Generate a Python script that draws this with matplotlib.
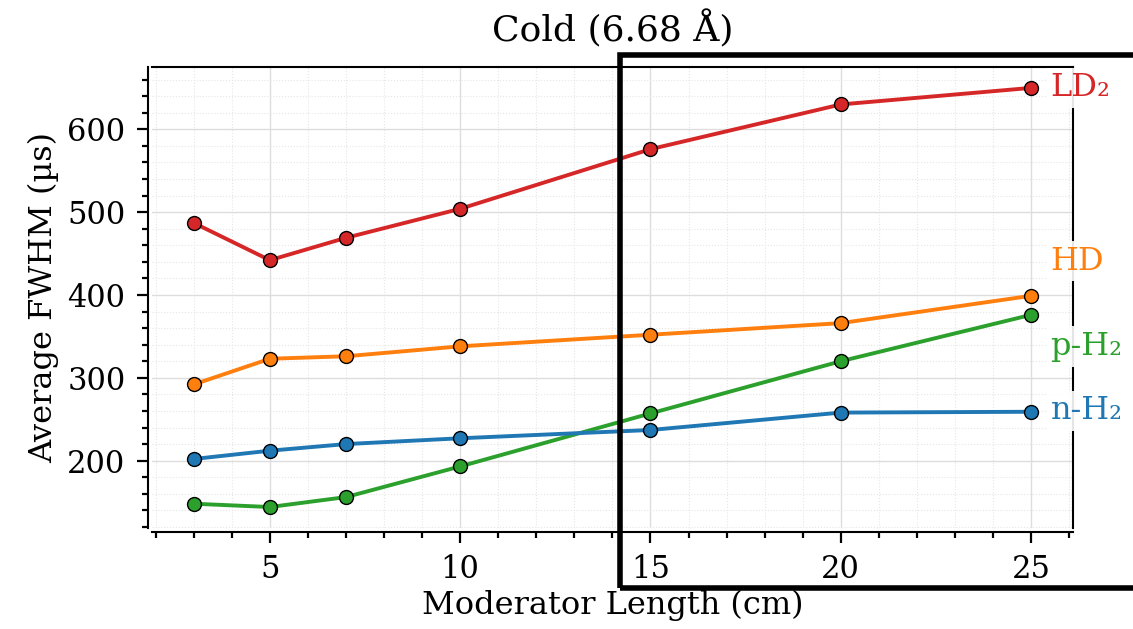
import matplotlib
matplotlib.use('Agg')
import matplotlib.pyplot as plt
from matplotlib.patches import Rectangle
from matplotlib.ticker import MultipleLocator

## moderator lengths (cm)
lengths = [3, 5, 7, 10, 15, 20, 25]

## average FWHM (us) per moderator material
ld2 = [487, 442, 469, 504, 576, 630, 650]
hd = [292, 323, 326, 338, 352, 366, 399]
ph2 = [148, 144, 156, 193, 257, 320, 376]
nh2 = [202, 212, 220, 227, 237, 258, 259]

names = ['LD₂', 'HD', 'p-H₂', 'n-H₂']
colors = ['#d62728', '#ff7f0e', '#2ca02c', '#1f77b4']
## where the end labels sit (data y)
label_y = [650, 441, 338, 260]

plt.rcParams['font.family'] = ['DejaVu Serif']
plt.rcParams['font.size'] = 21

fig = plt.figure(figsize=(11.33, 6.29), dpi=100)
ax = fig.add_axes([0.134, 0.1606, 0.813, 0.733])

series = [ld2, hd, ph2, nh2]
for vals, name, c, ly in zip(series, names, colors, label_y):
    ax.plot(lengths, vals, '-o', color=c, lw=2.8, ms=10,
            markeredgecolor='black', markeredgewidth=1.0, zorder=3)
    ax.annotate(name, xy=(lengths[-1], ly), xytext=(14, 0),
                textcoords='offset points', color=c, va='center', ha='left',
                fontsize=23, annotation_clip=False, zorder=5,
                bbox=dict(boxstyle='square,pad=0.15', fc='white', ec='none', alpha=0.9))

ax.xaxis.set_major_locator(MultipleLocator(5))
ax.xaxis.set_minor_locator(MultipleLocator(1))
ax.yaxis.set_major_locator(MultipleLocator(100))
ax.yaxis.set_minor_locator(MultipleLocator(20))
ax.tick_params(which='major', length=8, width=1.6, labelsize=22, pad=8)
ax.tick_params(which='minor', length=4.5, width=1.6)
for sp in ax.spines.values():
    sp.set_linewidth(1.5)
ax.spines['left'].set_position(('outward', 3))
ax.spines['bottom'].set_position(('outward', 3))
ax.grid(which='major', color='#dddddd', lw=1.0)
ax.grid(which='minor', color='#e6e6e6', lw=0.8, ls=':')
ax.set_axisbelow(True)

ax.set_xlabel('Moderator Length (cm)', fontsize=23, labelpad=3)
ax.set_ylabel('Average FWHM (µs)', fontsize=23, labelpad=6)
ax.set_title('Cold (6.68 Å)', fontsize=26, pad=18)

## highlight box around the longer moderators
fig.add_artist(Rectangle((620 / 1133, 1 - 588 / 629), 0.6, 533 / 629,
                         transform=fig.transFigure, fill=False,
                         ec='black', lw=4, zorder=10, clip_on=False))

fig.savefig('out.png', dpi=100)
